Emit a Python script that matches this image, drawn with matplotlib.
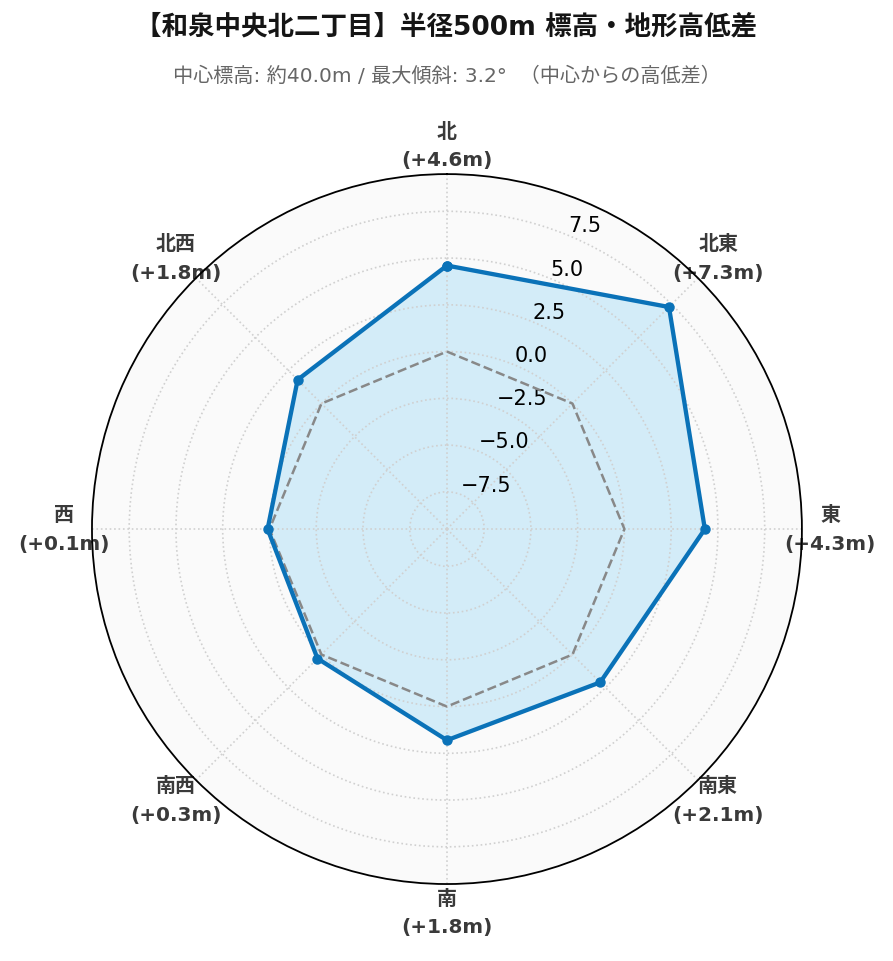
import numpy as np
import matplotlib.pyplot as plt

plt.rcParams['font.family'] = ['DejaVu Sans', 'Noto Sans CJK JP']

# Data
directions = ['北', '北東', '東', '南東', '南', '南西', '西', '北西']
diffs = [4.6, 7.3, 4.3, 2.1, 1.8, 0.3, 0.1, 1.8]
r_ticks = [-7.5, -5.0, -2.5, 0.0, 2.5, 5.0, 7.5]

angles = np.deg2rad(np.arange(len(directions)) * 45)
rmax = max(abs(v) for v in diffs) * 1.3

fig = plt.figure(figsize=(8.93, 9.62), dpi=100)
ax = fig.add_axes([0.103, 0.080, 0.795, 0.738], projection='polar')
ax.set_theta_zero_location('N')
ax.set_theta_direction(-1)
ax.set_facecolor('#fafafa')

# closed loops
a_loop = np.append(angles, angles[0])
v_loop = np.append(diffs, diffs[0])

ax.fill(a_loop, v_loop, color='#d3ecf8', zorder=1)
ax.plot(a_loop, np.zeros_like(a_loop), '--', color='#888888', lw=1.8, zorder=3)
ax.plot(a_loop, v_loop, '-o', color='#0a72b8', lw=3.1, ms=6.5, zorder=4)

ax.set_ylim(-rmax, rmax)
ax.set_yticks(r_ticks)
ax.set_yticklabels([f'{t:.1f}'.replace('-', '\u2212') for t in r_ticks],
                   fontsize=15)
ax.set_rlabel_position(22.5)

ax.set_xticks(angles)
ax.set_xticklabels([f'{d}\n(+{v:.1f}m)' for d, v in zip(directions, diffs)],
                   fontsize=14.4, fontweight='bold', color='#3a3a3a',
                   linespacing=1.65)
ax.tick_params(axis='x', pad=10)

ax.grid(True, linestyle=':', color='#d0d0d0', lw=1.2)
ax.spines['polar'].set_color('black')
ax.spines['polar'].set_linewidth(1.3)

fig.text(0.5, 0.971, '【和泉中央北二丁目】半径500m 標高・地形高低差',
         ha='center', va='center', fontsize=19.1, fontweight='bold', color='#151515')
fig.text(0.5, 0.921, '中心標高: 約40.0m / 最大傾斜: 3.2°  （中心からの高低差）',
         ha='center', va='center', fontsize=14.5, color='#666666')

fig.savefig('out.png', dpi=100)
